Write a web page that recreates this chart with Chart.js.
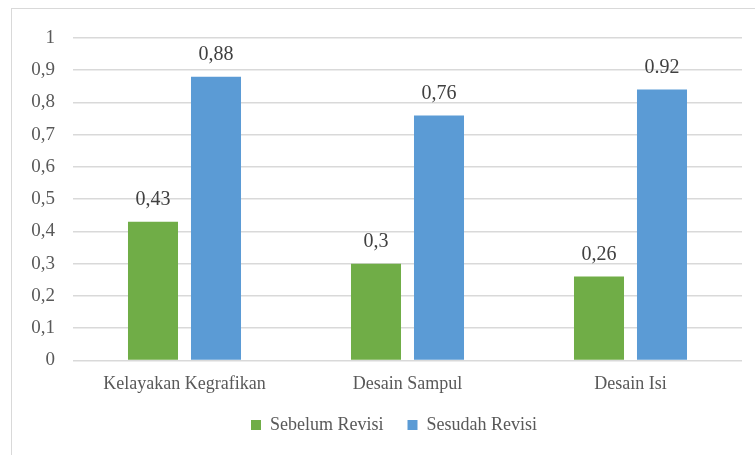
<!DOCTYPE html>
<html>
<head>
<meta charset="utf-8">
<script src="https://cdn.jsdelivr.net/npm/chart.js@4"></script>
<style>
  body { margin: 0; background: #fff; }
  #frame { position: absolute; left: 11px; top: 8px; width: 760px; height: 460px; border: 1px solid #d9d9d9; }
  #wrap { position: absolute; left: 0; top: 0; width: 755px; height: 455px; }
</style>
</head>
<body>
<div id="frame"></div>
<div id="wrap"><canvas id="chart" width="755" height="455"></canvas></div>
<script>
let categories = ["Kelayakan Kegrafikan", "Desain Sampul", "Desain Isi"];
let sebelum = [0.43, 0.30, 0.26];
let sesudah = [0.88, 0.76, 0.84];
let sebelumText = ["0,43", "0,3", "0,26"];
let sesudahText = ["0,88", "0,76", "0.92"];
let yTicks = [0, 0.1, 0.2, 0.3, 0.4, 0.5, 0.6, 0.7, 0.8, 0.9, 1];

let textColor = "#595959";
let serif = "'Liberation Serif', 'Times New Roman', serif";

// labels above each bar, drawn by hand since there's no datalabels plugin
let barLabels = {
  id: "barLabels",
  afterDatasetsDraw(chart) {
    let ctx = chart.ctx;
    let texts = [sebelumText, sesudahText];
    ctx.save();
    ctx.font = "20px " + serif;
    ctx.fillStyle = "#404040";
    ctx.textAlign = "center";
    ctx.textBaseline = "middle";
    chart.data.datasets.forEach((ds, i) => {
      chart.getDatasetMeta(i).data.forEach((bar, j) => {
        ctx.fillText(texts[i][j], bar.x, bar.y - 22);
      });
    });
    ctx.restore();
  }
};

// legend sits under the plot area in the original, not the whole canvas
let legendShift = {
  id: "legendShift",
  afterLayout(chart) {
    chart.legend.left += 46;
    chart.legend.top -= 16;
    chart.legend.bottom -= 16;
  }
};

new Chart(document.getElementById("chart"), {
  type: "bar",
  data: {
    labels: categories,
    datasets: [
      { label: "Sebelum Revisi", data: sebelum, backgroundColor: "#70AD47" },
      { label: "Sesudah Revisi", data: sesudah, backgroundColor: "#5B9BD5" }
    ]
  },
  options: {
    responsive: false,
    animation: false,
    devicePixelRatio: 1,
    categoryPercentage: 0.565,
    barPercentage: 0.794,
    layout: { padding: { top: 38, right: 13, left: 0, bottom: -5 } },
    plugins: {
      tooltip: { enabled: false },
      legend: {
        position: "bottom",
        labels: {
          color: textColor,
          font: { family: serif, size: 18 },
          boxWidth: 10,
          boxHeight: 10,
          padding: 24
        }
      }
    },
    scales: {
      x: {
        grid: { display: false, drawTicks: false },
        border: { display: false },
        ticks: { color: textColor, font: { family: serif, size: 18 }, padding: 13, maxRotation: 0 }
      },
      y: {
        min: 0,
        max: 1,
        afterBuildTicks(scale) { scale.ticks = yTicks.map(v => ({ value: v })); },
        afterFit(scale) { scale.width = 73; },
        grid: { color: "#d9d9d9", lineWidth: 1.5, drawTicks: false },
        border: { display: false },
        ticks: {
          color: textColor,
          font: { family: serif, size: 19 },
          padding: 18,
          callback: v => String(Math.round(v * 10) / 10).replace(".", ",")
        }
      }
    }
  },
  plugins: [barLabels, legendShift]
});
</script>
</body>
</html>
